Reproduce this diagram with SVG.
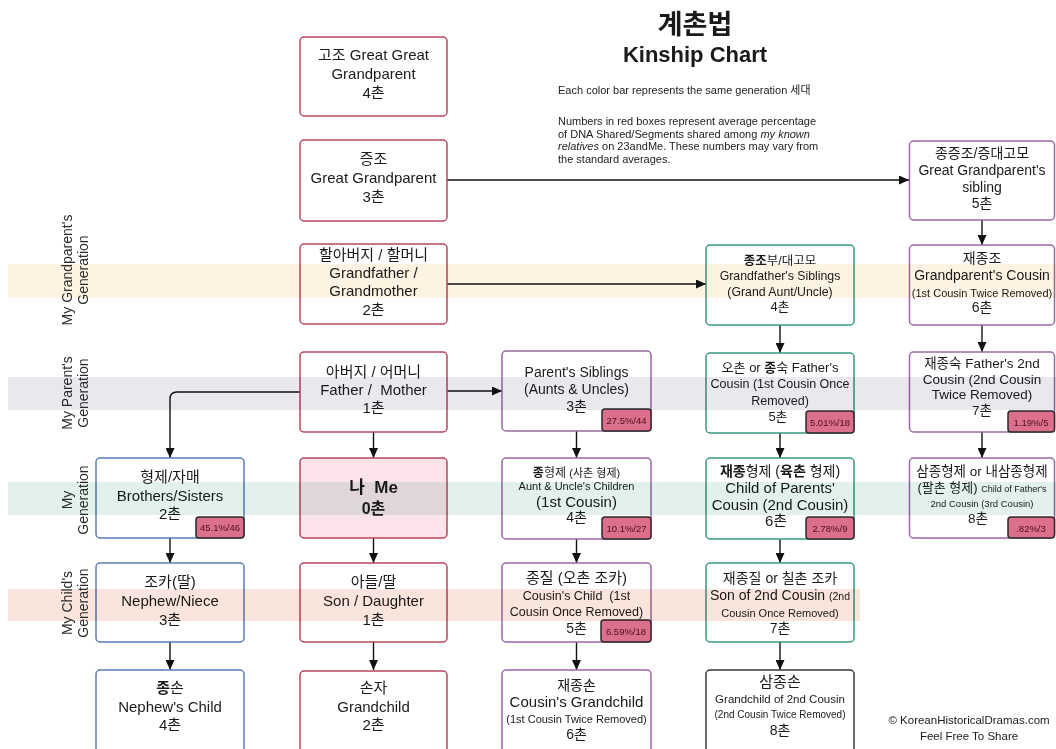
<svg xmlns="http://www.w3.org/2000/svg" width="1056" height="749" viewBox="0 0 1056 749">
<style>
.t{font-family:"Liberation Sans","Noto Sans CJK KR",sans-serif;text-anchor:middle;fill:#1a1a1a;font-size:15px}
.l{font-family:"Liberation Sans","Noto Sans CJK KR",sans-serif;fill:#222;font-size:11px}
.g{font-family:"Liberation Sans","Noto Sans CJK KR",sans-serif;text-anchor:middle;fill:#2a2a2a;font-size:14px}
.b{font-weight:bold}
.box{fill:none;stroke-width:1.5}
.red{stroke:#b84560}
.blue{stroke:#5a7fb5}
.pur{stroke:#9a6aa6}
.teal{stroke:#3a9883}
.dark{stroke:#3a3a3a}
.badge rect{fill:#dc6f8c;stroke:#2a2a2a;stroke-width:1.5}
.badge text{font-family:"Liberation Sans",sans-serif;font-size:9.5px;text-anchor:middle;fill:#4a0f1e}
.c{fill:none;stroke:#111;stroke-width:1.4;marker-end:url(#ah)}
.band{mix-blend-mode:multiply}
</style>
<defs>
<marker id="ah" markerUnits="userSpaceOnUse" markerWidth="10" markerHeight="9" refX="10" refY="4.5" orient="auto">
<path d="M0,0 L10,4.5 L0,9 z" fill="#111"/>
</marker>
</defs>
<rect x="0" y="0" width="1056" height="749" fill="#ffffff"/>

<g id="title">
<text x="695" y="34" class="t b" style="font-size:27px">계촌법</text>
<text x="695" y="62" class="t b" style="font-size:22px">Kinship Chart</text>
<text x="558" y="94" class="l">Each color bar represents the same generation 세대</text>
<text x="558" y="125" class="l">Numbers in red boxes represent average percentage</text>
<text x="558" y="137.5" class="l">of DNA Shared/Segments shared among <tspan font-style="italic">my known</tspan></text>
<text x="558" y="150" class="l"><tspan font-style="italic">relatives</tspan> on 23andMe. These numbers may vary from</text>
<text x="558" y="162.5" class="l">the standard averages.</text>
</g>

<g id="connectors">
<path class="c" d="M447,180 H909"/>
<path class="c" d="M447,284 H706"/>
<path class="c" d="M447,391 H502"/>
<path class="c" d="M300,392 H177 Q170,392 170,399 V458"/>
<path class="c" d="M373.5,432 V458"/>
<path class="c" d="M373.5,538 V563"/>
<path class="c" d="M373.5,642 V670"/>
<path class="c" d="M170,538 V563"/>
<path class="c" d="M170,642 V670"/>
<path class="c" d="M576.5,431 V458"/>
<path class="c" d="M576.5,539 V563"/>
<path class="c" d="M576.5,642 V670"/>
<path class="c" d="M780,325 V353"/>
<path class="c" d="M780,433 V458"/>
<path class="c" d="M780,539 V563"/>
<path class="c" d="M780,642 V670"/>
<path class="c" d="M982,220 V245"/>
<path class="c" d="M982,325 V352"/>
<path class="c" d="M982,432 V458"/>
</g>

<!-- column 1 -->
<g id="n-gojo">
<rect class="box red" x="300" y="37" width="147" height="79" rx="4"/>
<text class="t" x="373.5" y="60">고조 Great Great</text>
<text class="t" x="373.5" y="79">Grandparent</text>
<text class="t" x="373.5" y="98">4촌</text>
</g>
<g id="n-jeungjo">
<rect class="box red" x="300" y="140" width="147" height="81" rx="4"/>
<text class="t" x="373.5" y="164">증조</text>
<text class="t" x="373.5" y="183">Great Grandparent</text>
<text class="t" x="373.5" y="202">3촌</text>
</g>
<g id="n-grandparent">
<rect class="box red" x="300" y="244" width="147" height="80" rx="4"/>
<text class="t" x="373.5" y="260">할아버지 / 할머니</text>
<text class="t" x="373.5" y="278">Grandfather /</text>
<text class="t" x="373.5" y="296">Grandmother</text>
<text class="t" x="373.5" y="315">2촌</text>
</g>
<g id="n-parent">
<rect class="box red" x="300" y="352" width="147" height="80" rx="4"/>
<text class="t" x="373.5" y="377">아버지 / 어머니</text>
<text class="t" x="373.5" y="395">Father /&#160; Mother</text>
<text class="t" x="373.5" y="413">1촌</text>
</g>
<g id="n-me">
<rect class="box red" x="300" y="458" width="147" height="80" rx="4" style="fill:#fde3ea"/>
<text class="t b" x="373.5" y="493" style="font-size:17px">나&#160; Me</text>
<text class="t b" x="373.5" y="514" style="font-size:16px">0촌</text>
</g>
<g id="n-child">
<rect class="box red" x="300" y="563" width="147" height="79" rx="4"/>
<text class="t" x="373.5" y="587">아들/딸</text>
<text class="t" x="373.5" y="606">Son / Daughter</text>
<text class="t" x="373.5" y="625">1촌</text>
</g>
<g id="n-grandchild">
<rect class="box red" x="300" y="671" width="147" height="84" rx="4"/>
<text class="t" x="373.5" y="693">손자</text>
<text class="t" x="373.5" y="712">Grandchild</text>
<text class="t" x="373.5" y="730">2촌</text>
</g>

<!-- column 0 -->
<g id="n-siblings">
<rect class="box blue" x="96" y="458" width="148" height="80" rx="4"/>
<text class="t" x="170" y="482">형제/자매</text>
<text class="t" x="170" y="501">Brothers/Sisters</text>
<text class="t" x="170" y="519">2촌</text>
<g class="badge"><rect x="196" y="517" width="48" height="21" rx="3"/><text x="220" y="531">45.1%/46</text></g>
</g>
<g id="n-nephew">
<rect class="box blue" x="96" y="563" width="148" height="79" rx="4"/>
<text class="t" x="170" y="587">조카(딸)</text>
<text class="t" x="170" y="606">Nephew/Niece</text>
<text class="t" x="170" y="625">3촌</text>
</g>
<g id="n-nephewchild">
<rect class="box blue" x="96" y="670" width="148" height="85" rx="4"/>
<text class="t" x="170" y="693"><tspan class="b">종</tspan>손</text>
<text class="t" x="170" y="712">Nephew's Child</text>
<text class="t" x="170" y="730">4촌</text>
</g>

<!-- column 2 -->
<g id="n-aunts">
<rect class="box pur" x="502" y="351" width="149" height="80" rx="4"/>
<text class="t" x="576.5" y="377" style="font-size:14px">Parent's Siblings</text>
<text class="t" x="576.5" y="394" style="font-size:14px">(Aunts &amp; Uncles)</text>
<text class="t" x="576.5" y="411" style="font-size:14px">3촌</text>
<g class="badge"><rect x="602" y="409" width="49" height="22" rx="3"/><text x="626.5" y="424">27.5%/44</text></g>
</g>
<g id="n-cousin1">
<rect class="box pur" x="502" y="458" width="149" height="81" rx="4"/>
<text class="t" x="576.5" y="477" style="font-size:12px"><tspan class="b">종</tspan>형제 <tspan style="font-size:11px">(사촌 형제)</tspan></text>
<text class="t" x="576.5" y="490" style="font-size:11px">Aunt &amp; Uncle's Children</text>
<text class="t" x="576.5" y="507">(1st Cousin)</text>
<text class="t" x="576.5" y="522" style="font-size:14px">4촌</text>
<g class="badge"><rect x="602" y="517" width="49" height="22" rx="3"/><text x="626.5" y="532">10.1%/27</text></g>
</g>
<g id="n-cousinchild">
<rect class="box pur" x="502" y="563" width="149" height="79" rx="4"/>
<text class="t" x="576.5" y="583">종질 (오촌 조카)</text>
<text class="t" x="576.5" y="600" style="font-size:12.5px">Cousin's Child&#160; (1st</text>
<text class="t" x="576.5" y="616" style="font-size:12.5px">Cousin Once Removed)</text>
<text class="t" x="576.5" y="633" style="font-size:14px">5촌</text>
<g class="badge"><rect x="601" y="620" width="50" height="22" rx="3"/><text x="626" y="635">6.59%/18</text></g>
</g>
<g id="n-cousingrandchild">
<rect class="box pur" x="502" y="670" width="149" height="85" rx="4"/>
<text class="t" x="576.5" y="690" style="font-size:14px">재종손</text>
<text class="t" x="576.5" y="707">Cousin's Grandchild</text>
<text class="t" x="576.5" y="723" style="font-size:11px">(1st Cousin Twice Removed)</text>
<text class="t" x="576.5" y="739" style="font-size:14px">6촌</text>
</g>

<!-- column 3 -->
<g id="n-granduncle">
<rect class="box teal" x="706" y="245" width="148" height="80" rx="4"/>
<text class="t" x="780" y="265" style="font-size:12.5px"><tspan class="b">종조</tspan>부/대고모</text>
<text class="t" x="780" y="280" style="font-size:12.3px">Grandfather's Siblings</text>
<text class="t" x="780" y="296" style="font-size:12.3px">(Grand Aunt/Uncle)</text>
<text class="t" x="780" y="311" style="font-size:13px">4촌</text>
</g>
<g id="n-fathercousin">
<rect class="box teal" x="706" y="353" width="148" height="80" rx="4"/>
<text class="t" x="780" y="372" style="font-size:13px">오촌 or <tspan class="b">종</tspan>숙 Father's</text>
<text class="t" x="780" y="388" style="font-size:12.5px">Cousin (1st Cousin Once</text>
<text class="t" x="780" y="405" style="font-size:12.5px">Removed)</text>
<text class="t" x="778" y="421" style="font-size:13px">5촌</text>
<g class="badge"><rect x="806" y="411" width="48" height="22" rx="3"/><text x="830" y="426">5.01%/18</text></g>
</g>
<g id="n-cousin2">
<rect class="box teal" x="706" y="458" width="148" height="81" rx="4"/>
<text class="t" x="780" y="476" style="font-size:14px"><tspan class="b">재종</tspan>형제 (<tspan class="b">육촌</tspan> 형제)</text>
<text class="t" x="780" y="493">Child of Parents'</text>
<text class="t" x="780" y="510">Cousin (2nd Cousin)</text>
<text class="t" x="776" y="526">6촌</text>
<g class="badge"><rect x="806" y="517" width="48" height="22" rx="3"/><text x="830" y="532">2.78%/9</text></g>
</g>
<g id="n-cousin2child">
<rect class="box teal" x="706" y="563" width="148" height="79" rx="4"/>
<text class="t" x="780" y="583" style="font-size:14px">재종질 or 칠촌 조카</text>
<text class="t" x="780" y="600" style="font-size:14px">Son of 2nd Cousin <tspan style="font-size:10.5px">(2nd</tspan></text>
<text class="t" x="780" y="617" style="font-size:11px">Cousin Once Removed)</text>
<text class="t" x="780" y="633" style="font-size:14px">7촌</text>
</g>
<g id="n-cousin2grandchild">
<rect class="box dark" x="706" y="670" width="148" height="85" rx="4"/>
<text class="t" x="780" y="687">삼종손</text>
<text class="t" x="780" y="703" style="font-size:11.5px">Grandchild of 2nd Cousin</text>
<text class="t" x="780" y="718" style="font-size:10px">(2nd Cousin Twice Removed)</text>
<text class="t" x="780" y="735" style="font-size:14px">8촌</text>
</g>

<!-- column 4 -->
<g id="n-ggsibling">
<rect class="box pur" x="909.5" y="141" width="145" height="79" rx="4"/>
<text class="t" x="982" y="158" style="font-size:14px">종증조/증대고모</text>
<text class="t" x="982" y="175" style="font-size:14px">Great Grandparent's</text>
<text class="t" x="982" y="192" style="font-size:14px">sibling</text>
<text class="t" x="982" y="208" style="font-size:14px">5촌</text>
</g>
<g id="n-gpcousin">
<rect class="box pur" x="909.5" y="245" width="145" height="80" rx="4"/>
<text class="t" x="982" y="263" style="font-size:14px">재종조</text>
<text class="t" x="982" y="280" style="font-size:14px">Grandparent's Cousin</text>
<text class="t" x="982" y="297" style="font-size:11px">(1st Cousin Twice Removed)</text>
<text class="t" x="982" y="312" style="font-size:14px">6촌</text>
</g>
<g id="n-father2cousin">
<rect class="box pur" x="909.5" y="352" width="145" height="80" rx="4"/>
<text class="t" x="982" y="368" style="font-size:13.5px">재종숙 Father's 2nd</text>
<text class="t" x="982" y="384" style="font-size:13.5px">Cousin (2nd Cousin</text>
<text class="t" x="982" y="399" style="font-size:13.5px">Twice Removed)</text>
<text class="t" x="982" y="415" style="font-size:13.5px">7촌</text>
<g class="badge"><rect x="1008" y="411" width="46.5" height="21" rx="3"/><text x="1031" y="425.5">1.19%/5</text></g>
</g>
<g id="n-cousin3">
<rect class="box pur" x="909.5" y="458" width="145" height="80" rx="4"/>
<text class="t" x="982" y="476" style="font-size:13.5px">삼종형제 or 내삼종형제</text>
<text class="t" x="982" y="492" style="font-size:13px">(팔촌 형제) <tspan style="font-size:9px">Child of Father's</tspan></text>
<text class="t" x="982" y="507" style="font-size:9.5px">2nd Cousin (3rd Cousin)</text>
<text class="t" x="978" y="523" style="font-size:13.5px">8촌</text>
<g class="badge"><rect x="1008" y="517" width="46.5" height="21" rx="3"/><text x="1031" y="531.5">.82%/3</text></g>
</g>

<g id="credit">
<text class="t" x="969" y="724" style="font-size:11.5px">© KoreanHistoricalDramas.com</text>
<text class="t" x="969" y="740" style="font-size:11.5px">Feel Free To Share</text>
</g>

<g id="bands">
<rect class="band" x="8" y="264" width="1048" height="34" fill="#fdf3e2"/>
<rect class="band" x="8" y="377" width="1048" height="33" fill="#ebe7ef"/>
<rect class="band" x="8" y="482" width="1048" height="33" fill="#e2f1ec"/>
<rect class="band" x="8" y="589" width="852" height="32" fill="#fae5dc"/>
</g>

<g id="gen-labels">
<text class="g" transform="translate(72,270) rotate(-90)">My Grandparent's</text>
<text class="g" transform="translate(88,270) rotate(-90)">Generation</text>
<text class="g" transform="translate(72,393) rotate(-90)">My Parent's</text>
<text class="g" transform="translate(88,393) rotate(-90)">Generation</text>
<text class="g" transform="translate(72,500) rotate(-90)">My</text>
<text class="g" transform="translate(88,500) rotate(-90)">Generation</text>
<text class="g" transform="translate(72,603) rotate(-90)">My Child's</text>
<text class="g" transform="translate(88,603) rotate(-90)">Generation</text>
</g>
</svg>
